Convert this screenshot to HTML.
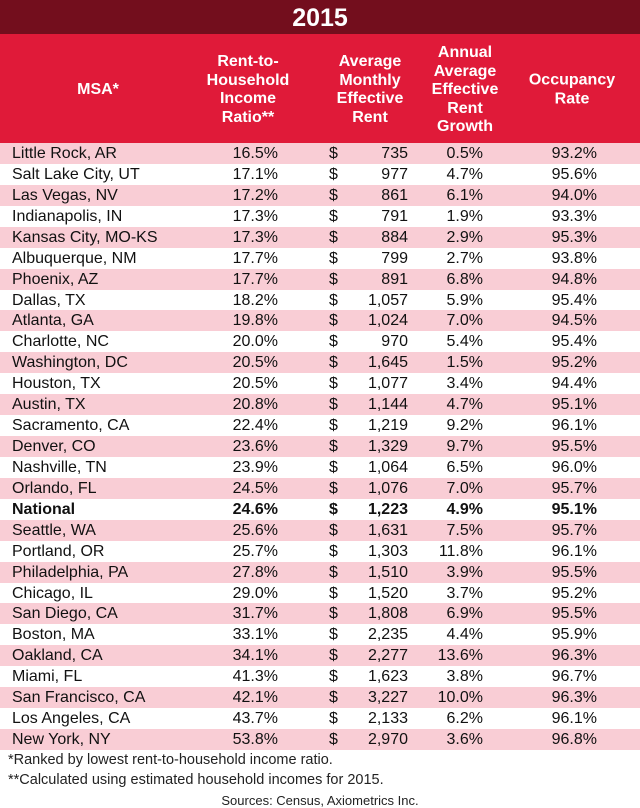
<!DOCTYPE html>
<html><head><meta charset="utf-8"><style>
body{margin:0;width:640px;height:808px;background:#fff;font-family:"Liberation Sans",Arial,sans-serif;position:relative;overflow:hidden}
.t{position:absolute;left:0;top:0;width:640px;height:34px;background:#730e1d;color:#fff;font-weight:bold;font-size:25px;text-align:center;line-height:36px}
.h{position:absolute;left:0;top:34px;width:640px;height:109px;background:#e01a39;color:#fff;font-weight:bold;font-size:16px}
.h div{position:absolute;text-align:center;line-height:18.5px;transform:translateY(-50%);top:56px}
.r{position:absolute;left:0;width:640px;height:21px;font-size:16px;line-height:21px;color:#111}
.r.p{background:#f9cdd5}
.r span{position:absolute;top:0}
.a{left:12px}.b{right:362px}.c{left:329px}.d{right:232px}.e{right:157px}.f{right:43px}
.r.n{font-weight:bold}
.fn{position:absolute;left:8px;font-size:14.5px;color:#222}
</style></head><body>
<div class="t">2015</div>
<div class="h">
<div style="left:38px;width:120px">MSA*</div>
<div style="left:198px;width:100px">Rent-to-<br>Household<br>Income<br>Ratio**</div>
<div style="left:320px;width:100px">Average<br>Monthly<br>Effective<br>Rent</div>
<div style="left:415px;width:100px">Annual<br>Average<br>Effective<br>Rent<br>Growth</div>
<div style="left:522px;width:100px">Occupancy<br>Rate</div>
</div>
<div id="rows"></div>
<script>
var d=[["Little Rock, AR","16.5%","735","0.5%","93.2%"],["Salt Lake City, UT","17.1%","977","4.7%","95.6%"],["Las Vegas, NV","17.2%","861","6.1%","94.0%"],["Indianapolis, IN","17.3%","791","1.9%","93.3%"],["Kansas City, MO-KS","17.3%","884","2.9%","95.3%"],["Albuquerque, NM","17.7%","799","2.7%","93.8%"],["Phoenix, AZ","17.7%","891","6.8%","94.8%"],["Dallas, TX","18.2%","1,057","5.9%","95.4%"],["Atlanta, GA","19.8%","1,024","7.0%","94.5%"],["Charlotte, NC","20.0%","970","5.4%","95.4%"],["Washington, DC","20.5%","1,645","1.5%","95.2%"],["Houston, TX","20.5%","1,077","3.4%","94.4%"],["Austin, TX","20.8%","1,144","4.7%","95.1%"],["Sacramento, CA","22.4%","1,219","9.2%","96.1%"],["Denver, CO","23.6%","1,329","9.7%","95.5%"],["Nashville, TN","23.9%","1,064","6.5%","96.0%"],["Orlando, FL","24.5%","1,076","7.0%","95.7%"],["National","24.6%","1,223","4.9%","95.1%"],["Seattle, WA","25.6%","1,631","7.5%","95.7%"],["Portland, OR","25.7%","1,303","11.8%","96.1%"],["Philadelphia, PA","27.8%","1,510","3.9%","95.5%"],["Chicago, IL","29.0%","1,520","3.7%","95.2%"],["San Diego, CA","31.7%","1,808","6.9%","95.5%"],["Boston, MA","33.1%","2,235","4.4%","95.9%"],["Oakland, CA","34.1%","2,277","13.6%","96.3%"],["Miami, FL","41.3%","1,623","3.8%","96.7%"],["San Francisco, CA","42.1%","3,227","10.0%","96.3%"],["Los Angeles, CA","43.7%","2,133","6.2%","96.1%"],["New York, NY","53.8%","2,970","3.6%","96.8%"]];
var h="";d.forEach(function(r,i){var top=143+i*20.93;h+='<div class="r'+(i%2==0?' p':'')+(r[0]=="National"?' n':'')+'" style="top:'+top+'px"><span class="a">'+r[0]+'</span><span class="b">'+r[1]+'</span><span class="c">$</span><span class="d">'+r[2]+'</span><span class="e">'+r[3]+'</span><span class="f">'+r[4]+'</span></div>';});
document.getElementById("rows").innerHTML=h;
</script>
<div class="fn" style="top:752px">*Ranked by lowest rent-to-household income ratio.</div>
<div class="fn" style="top:772px">**Calculated using estimated household incomes for 2015.</div>
<div class="fn" style="top:793px;left:0;width:640px;text-align:center;font-size:13px">Sources: Census, Axiometrics Inc.</div>
</body></html>
